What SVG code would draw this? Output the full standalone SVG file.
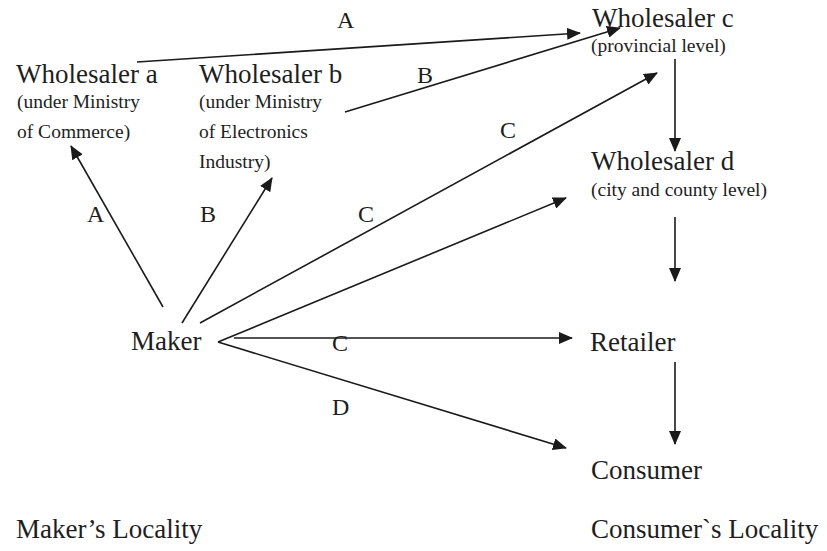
<svg xmlns="http://www.w3.org/2000/svg" width="827" height="551" viewBox="0 0 827 551">
<style>
text{font-family:"Liberation Serif","Times New Roman",serif;fill:#1e1e1e}
.m{font-size:27px}
.s{font-size:19.5px}
.l{font-size:24px}
.e{stroke:#1a1a1a;stroke-width:1.6;fill:none}
.a{marker-end:url(#ah)}
</style>
<defs>
<marker id="ah" viewBox="0 0 14 12" refX="13" refY="6" markerWidth="14" markerHeight="12" markerUnits="userSpaceOnUse" orient="auto">
<path d="M0,0 L14,6 L0,12 Z" fill="#1a1a1a"/>
</marker>
</defs>
<rect width="827" height="551" fill="#ffffff"/>
<g id="connectors">
<line class="e a" x1="137" y1="62" x2="580" y2="33"/>
<line class="e a" x1="345" y1="112" x2="620" y2="28"/>
<line class="e a" x1="163" y1="307" x2="71" y2="146"/>
<line class="e a" x1="182" y1="323" x2="272" y2="178"/>
<line class="e a" x1="200" y1="323" x2="657" y2="73"/>
<line class="e a" x1="218" y1="342" x2="566" y2="198"/>
<line class="e a" x1="234" y1="338" x2="572" y2="338"/>
<line class="e a" x1="218" y1="342" x2="566" y2="448"/>
<line class="e a" x1="675" y1="59" x2="675" y2="151"/>
<line class="e a" x1="675" y1="217" x2="675" y2="281"/>
<line class="e a" x1="675" y1="362" x2="675" y2="444"/>
<g id="labels">
<text class="l" x="337" y="28">A</text>
<text class="l" x="417" y="83">B</text>
<text class="l" x="500" y="138">C</text>
<text class="l" x="87" y="222">A</text>
<text class="l" x="200" y="222">B</text>
<text class="l" x="358" y="222">C</text>
<text class="l" x="332" y="351">C</text>
<text class="l" x="332" y="415">D</text>
</g>
</g>
<g id="wholesaler-a">
<text class="m" x="16" y="83">Wholesaler a</text>
<text class="s" x="17" y="108">(under Ministry</text>
<text class="s" x="17" y="138">of Commerce)</text>
</g>
<g id="wholesaler-b">
<text class="m" x="199" y="83">Wholesaler b</text>
<text class="s" x="199" y="108">(under Ministry</text>
<text class="s" x="199" y="138">of Electronics</text>
<text class="s" x="199" y="168">Industry)</text>
</g>
<g id="wholesaler-c">
<text class="m" x="592" y="27">Wholesaler c</text>
<text class="s" x="591" y="52">(provincial level)</text>
</g>
<g id="wholesaler-d">
<text class="m" x="591" y="170">Wholesaler d</text>
<text class="s" x="591" y="196">(city and county level)</text>
</g>
<g id="maker">
<text class="m" x="131" y="350">Maker</text>
</g>
<g id="retailer">
<text class="m" x="590" y="351">Retailer</text>
</g>
<g id="consumer">
<text class="m" x="591" y="479">Consumer</text>
</g>
<g id="localities">
<text class="m" x="16" y="538">Maker’s Locality</text>
<text class="m" x="591" y="538">Consumer`s Locality</text>
</g>
</svg>
